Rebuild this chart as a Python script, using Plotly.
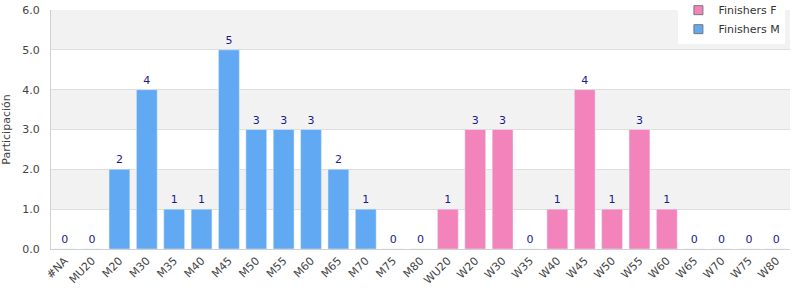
import plotly.graph_objects as go

categories = ["#NA","MU20","M20","M30","M35","M40","M45","M50","M55","M60","M65","M70","M75","M80",
              "WU20","W20","W30","W35","W40","W45","W50","W55","W60","W65","W70","W75","W80"]
male_cats = ["#NA","MU20","M20","M30","M35","M40","M45","M50","M55","M60","M65","M70","M75","M80"]
male_vals = [0,0,2,4,1,1,5,3,3,3,2,1,0,0]
female_cats = ["WU20","W20","W30","W35","W40","W45","W50","W55","W60","W65","W70","W75","W80"]
female_vals = [1,3,3,0,1,4,1,3,1,0,0,0,0]

font = "DejaVu Sans"
pink = "#f383bb"
blue = "#62a9f4"
fig = go.Figure()
fig.add_bar(x=female_cats, y=female_vals, name="Finishers F", marker_color=pink,
            text=[str(v) for v in female_vals], textposition="outside", showlegend=False,
            textfont=dict(color="#1a1a8c", size=11, family=font), cliponaxis=False)
fig.add_bar(x=male_cats, y=male_vals, name="Finishers M", marker_color=blue,
            text=[str(v) for v in male_vals], textposition="outside", showlegend=False,
            textfont=dict(color="#1a1a8c", size=11, family=font), cliponaxis=False)
# legend entries with small bordered squares
for name, col in [("Finishers F", pink), ("Finishers M", blue)]:
    fig.add_scatter(x=[None], y=[None], mode="markers", name=name,
                    marker=dict(symbol="square", size=9, color=col,
                                line=dict(color="#777", width=1)))

shapes = []
for lo in [1, 3, 5]:
    shapes.append(dict(type="rect", xref="paper", yref="y", x0=0, x1=1, y0=lo, y1=lo+1,
                       fillcolor="#f2f2f2", line_width=0, layer="below"))

fig.update_layout(
    width=800, height=300,
    margin=dict(l=51, r=10, t=10, b=51, autoexpand=False),
    plot_bgcolor="white", paper_bgcolor="white",
    font=dict(family=font, size=11, color="#444"),
    barmode="overlay", bargap=0.24,
    shapes=shapes,
    showlegend=True,
    legend=dict(x=0.849, y=1.06, xanchor="left", yanchor="top", bgcolor="white",
                traceorder="normal", font=dict(size=11, color="#333"),
                tracegroupgap=0, itemwidth=30),
    uniformtext=dict(minsize=11, mode="show"),
)
fig.update_xaxes(categoryorder="array", categoryarray=categories, tickangle=-45,
                 showline=True, linecolor="#d0d0d0", tickfont=dict(size=11, color="#444"),
                 ticks="", range=[-0.5, len(categories)-0.5])
fig.update_yaxes(range=[0, 6], dtick=1, tickformat=".1f", showgrid=True, gridcolor="#dedede",
                 showline=True, linecolor="#d0d0d0", zeroline=False,
                 ticks="outside", ticklen=8, tickcolor="rgba(0,0,0,0)",
                 title=dict(text="Participación", font=dict(size=11, color="#444"), standoff=12),
                 tickfont=dict(size=11, color="#444"))
fig.write_html("out.html")
